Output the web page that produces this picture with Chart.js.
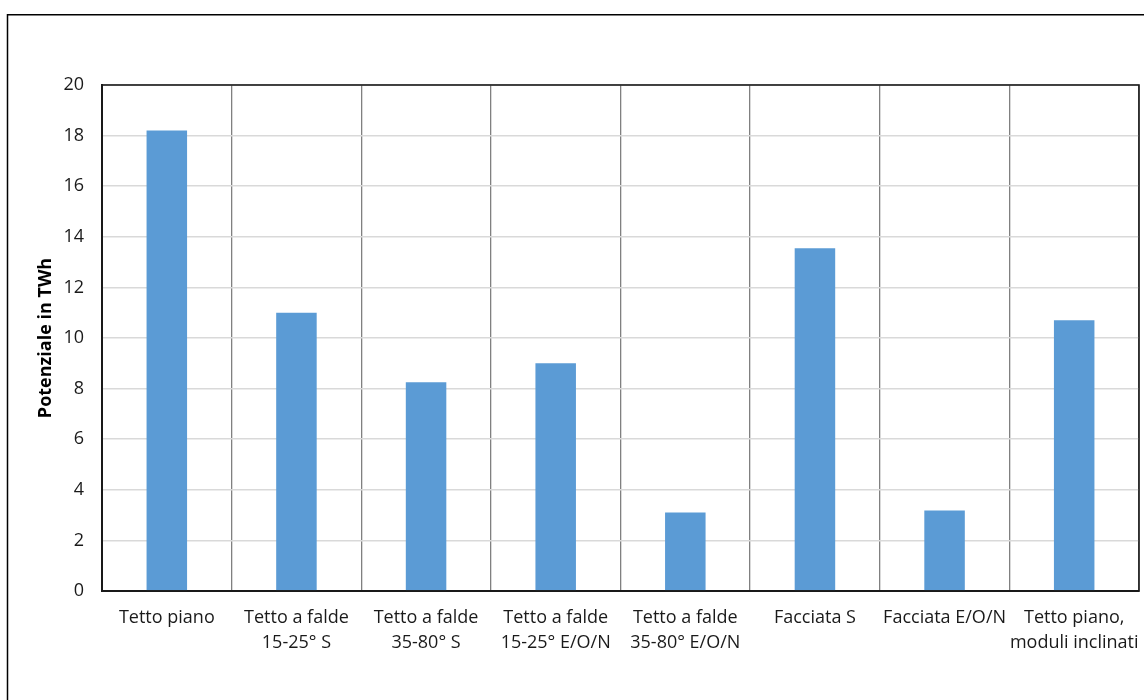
<!DOCTYPE html>
<html>
<head>
<meta charset="utf-8">
<script src="https://cdn.jsdelivr.net/npm/chart.js@4.4.1/dist/chart.umd.min.js"></script>
<style>
    html, body { margin: 0; padding: 0; background: #fff; overflow: hidden; }
    #wrap { position: relative; width: 1144px; height: 700px; }
</style>
</head>
<body>
<div id="wrap"><canvas id="potChart" width="1144" height="700"></canvas></div>
<script>
const categories = [
    'Tetto piano',
    ['Tetto a falde', '15-25° S'],
    ['Tetto a falde', '35-80° S'],
    ['Tetto a falde', '15-25° E/O/N'],
    ['Tetto a falde', '35-80° E/O/N'],
    'Facciata S',
    'Facciata E/O/N',
    ['Tetto piano,', 'moduli inclinati']
];
const potenziale = [18.2, 11.0, 8.25, 9.0, 3.1, 13.55, 3.18, 10.7];
const yMin = 0;
const yMax = 20;
const yStep = 2;

const fontFamily = '"Open Sans", "Noto Sans", sans-serif';

// outer frame of the picture + dark outline of the plot area
const framePlugin = {
    id: 'frame',
    beforeDraw(chart) {
        const ctx = chart.ctx;
        ctx.save();
        ctx.fillStyle = '#ffffff';
        ctx.fillRect(0, 0, chart.width, chart.height);
        ctx.strokeStyle = '#000000';
        ctx.lineWidth = 1.5;
        ctx.strokeRect(7.5, 14.75, chart.width + 50, chart.height + 50);
        ctx.restore();
    },
    afterDraw(chart) {
        const a = chart.chartArea;
        const ctx = chart.ctx;
        ctx.save();
        ctx.strokeStyle = '#1a1a1a';
        ctx.lineWidth = 1.6;
        ctx.strokeRect(a.left, a.top, a.right - a.left, a.bottom - a.top);
        ctx.restore();
    }
};

function initPotChart() {
    const ctx = document.getElementById('potChart');
    if (!ctx) return;

    new Chart(ctx, {
        type: 'bar',
        data: {
            labels: categories,
            datasets: [{
                label: 'Potenziale in TWh',
                data: potenziale,
                backgroundColor: '#5b9bd5',
                borderWidth: 0,
                barPercentage: 0.3125,
                categoryPercentage: 1.0
            }]
        },
        options: {
            responsive: false,
            animation: false,
            layout: { padding: { top: 85, right: 5, left: 0, bottom: 0 } },
            plugins: {
                legend: { display: false },
                tooltip: { enabled: false }
            },
            scales: {
                x: {
                    offset: true,
                    grid: { color: '#808080', lineWidth: 1.3, drawTicks: false, offset: true },
                    border: { color: '#1a1a1a', width: 2 },
                    ticks: {
                        color: '#1a1a1a',
                        padding: 15,
                        maxRotation: 0,
                        autoSkip: false,
                        font: { family: fontFamily, size: 18, lineHeight: 1.35 }
                    },
                    afterFit(scale) {
                        scale.height = 109;
                        scale.paddingLeft = 0;
                        scale.paddingRight = 0;
                    }
                },
                y: {
                    min: yMin,
                    max: yMax,
                    grid: { color: '#d9d9d9', lineWidth: 1.5, drawTicks: false },
                    border: { color: '#1a1a1a', width: 2 },
                    ticks: {
                        stepSize: yStep,
                        color: '#1a1a1a',
                        padding: 18,
                        font: { family: fontFamily, size: 18 }
                    },
                    title: {
                        display: true,
                        text: 'Potenziale in TWh',
                        color: '#000000',
                        padding: { top: 35, bottom: 0 },
                        font: { family: fontFamily, size: 18, weight: 'bold' }
                    },
                    afterFit(scale) { scale.width = 102; }
                }
            }
        },
        plugins: [framePlugin]
    });
}

if (document.readyState === 'loading') {
    document.addEventListener('DOMContentLoaded', initPotChart);
} else {
    initPotChart();
}
</script>
</body>
</html>
